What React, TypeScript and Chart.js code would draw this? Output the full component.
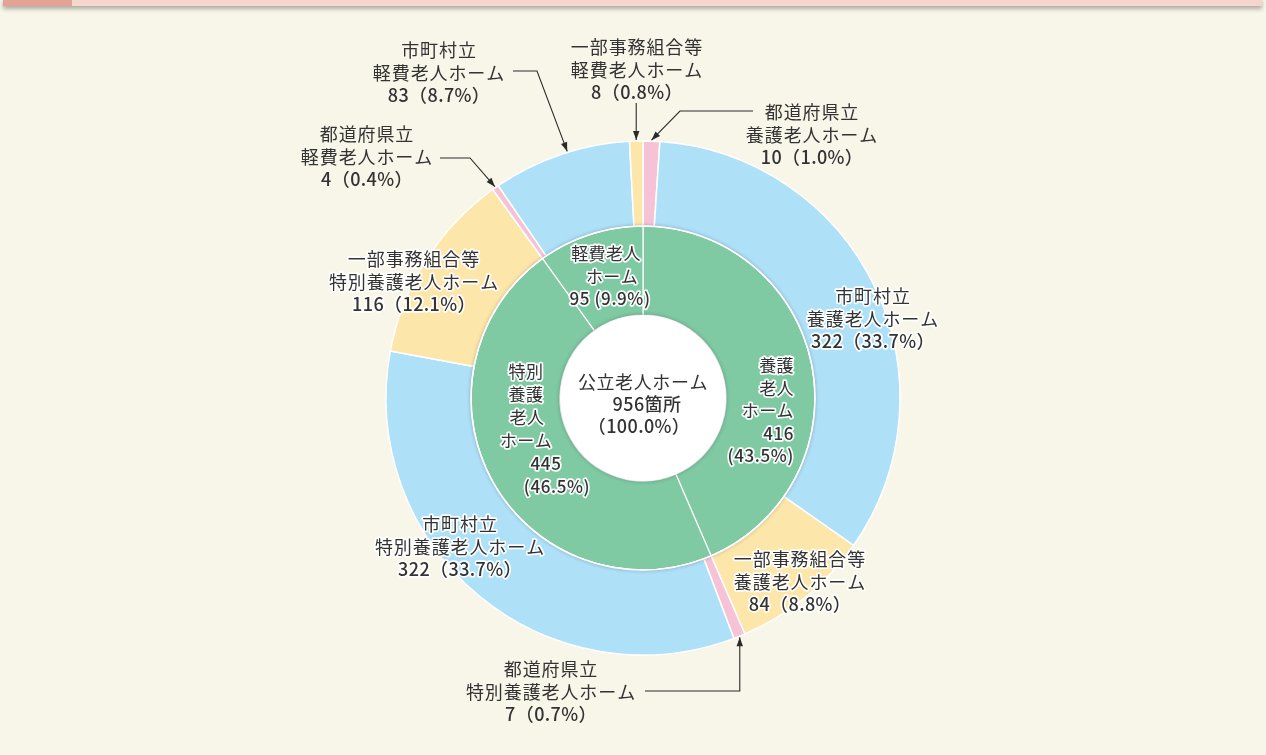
import React, { useEffect, useRef } from 'react';
import { Chart, registerables } from 'chart.js';

Chart.register(...registerables);

// ---------------- data ----------------
const innerCategories = ['養護老人ホーム', '特別養護老人ホーム', '軽費老人ホーム'];
const innerValues = [416, 445, 95];
const innerPercents = ['43.5', '46.5', '9.9'];
const innerLabelWords = [
  ['養護', '老人', 'ホーム'],
  ['特別', '養護', '老人', 'ホーム'],
  ['軽費老人', 'ホーム'],
];

const outerOwners = ['都道府県立', '市町村立', '一部事務組合等', '都道府県立', '市町村立', '一部事務組合等', '都道府県立', '市町村立', '一部事務組合等'];
const outerTypes = ['養護老人ホーム', '養護老人ホーム', '養護老人ホーム', '特別養護老人ホーム', '特別養護老人ホーム', '特別養護老人ホーム', '軽費老人ホーム', '軽費老人ホーム', '軽費老人ホーム'];
const outerValues = [10, 322, 84, 7, 322, 116, 4, 83, 8];
const outerPercents = ['1.0', '33.7', '8.8', '0.7', '33.7', '12.1', '0.4', '8.7', '0.8'];

const centerTitle = '公立老人ホーム';
const totalValue = 956;
const totalUnit = '箇所';
const totalPercent = '100.0';

// ---------------- styles / layout ----------------
const BG = '#f8f5e9';
const TEXT = '#333333';
const GREEN = '#7fc9a3';
const OWNER_COLORS: Record<string, string> = {
  '都道府県立': '#f6c3d6',
  '市町村立': '#aee0f8',
  '一部事務組合等': '#fde6aa',
};
const FONT = '"Noto Sans CJK JP", "Noto Sans", sans-serif';
const NUM_WEIGHT = '500';

// label anchors relative to chart centre: [dx, dy of first line centre]
const outerLabelPos: [number, number][] = [
  [169, -286], [230, -102], [157, 161],
  [-92, 271], [-183, 126], [-229, -139],
  [-276, -264], [-204, -348], [-6, -351],
];
const outerLabelHalo = [false, true, true, false, true, true, false, false, false];
// leader line points (relative to centre); null x = use arrow tip x
const outerLeaders: (null | { via: [number | null, number][]; frac: number })[] = [
  { via: [[110, -287], [37, -287]], frac: 0.5 },
  null,
  null,
  { via: [[2, 293], [null, 293]], frac: 0.5 },
  null,
  null,
  { via: [[-203, -240], [-173, -240]], frac: 0.5 },
  { via: [[-130, -327], [-106, -327]], frac: 0.55 },
  { via: [[null, -295]], frac: 0.5 },
];

const innerLabelLayout = [
  { align: 'right' as CanvasTextAlign, xs: [151, 151, 151, 151, 151], y0: -32, lh: 22.5 },
  { align: 'center' as CanvasTextAlign, xs: [-117, -117, -116, -117, -97, -86], y0: -26, lh: 23 },
  { align: 'center' as CanvasTextAlign, xs: [-37, -31, -33], y0: -144, lh: 22.5 },
];

function drawText(ctx: CanvasRenderingContext2D, text: string, x: number, y: number, halo: boolean, spacing: number) {
  (ctx as any).letterSpacing = spacing + 'px';
  if (halo) {
    ctx.save();
    ctx.lineJoin = 'round';
    ctx.strokeStyle = 'rgba(255,255,255,0.95)';
    ctx.lineWidth = 3.5;
    ctx.strokeText(text, x, y);
    ctx.restore();
  }
  ctx.fillText(text, x, y);
}

const overlayPlugin = {
  id: 'overlay',
  afterDatasetsDraw(chart: any) {
    const ctx: CanvasRenderingContext2D = chart.ctx;
    const outerMeta = chart.getDatasetMeta(0);
    const innerMeta = chart.getDatasetMeta(1);
    const a0: any = outerMeta.data[0];
    const i0: any = innerMeta.data[0];
    const cx = a0.x;
    const cy = a0.y;
    const outerR = a0.outerRadius;
    const ringR = i0.outerRadius;
    const holeR = i0.innerRadius;

    // shadow of the inner ring onto the outer ring
    ctx.save();
    ctx.beginPath();
    ctx.arc(cx, cy, outerR + 6, 0, Math.PI * 2);
    ctx.arc(cx, cy, ringR, 0, Math.PI * 2, true);
    ctx.clip();
    ctx.shadowColor = 'rgba(0,0,0,0.35)';
    ctx.shadowBlur = 4;
    ctx.beginPath();
    ctx.arc(cx, cy, ringR, 0, Math.PI * 2);
    ctx.fillStyle = '#ffffff';
    ctx.fill();
    ctx.restore();
    ctx.save();
    ctx.beginPath();
    ctx.arc(cx, cy, ringR, 0, Math.PI * 2);
    ctx.strokeStyle = '#ffffff';
    ctx.lineWidth = 1.5;
    ctx.stroke();
    ctx.restore();

    // white centre
    ctx.save();
    ctx.shadowColor = 'rgba(0,0,0,0.3)';
    ctx.shadowBlur = 4;
    ctx.beginPath();
    ctx.arc(cx, cy, holeR, 0, Math.PI * 2);
    ctx.fillStyle = '#ffffff';
    ctx.fill();
    ctx.restore();

    ctx.save();
    ctx.fillStyle = TEXT;
    ctx.textBaseline = 'middle';

    // centre text
    ctx.textAlign = 'center';
    ctx.font = `18px ${FONT}`;
    drawText(ctx, centerTitle, cx, cy - 16, false, 0.6);
    ctx.font = `${NUM_WEIGHT} 18px ${FONT}`;
    drawText(ctx, `${totalValue}${totalUnit}`, cx + 4, cy + 6, false, 0.4);
    drawText(ctx, `（${totalPercent}%）`, cx - 4, cy + 28, false, 0.4);

    // outer labels + leaders
    outerValues.forEach((v, i) => {
      const [dx, dy] = outerLabelPos[i];
      const lines = [outerOwners[i], outerTypes[i], `${v}（${outerPercents[i]}%）`];
      lines.forEach((t, k) => {
        ctx.font = k === 2 ? `${NUM_WEIGHT} 18px ${FONT}` : `18px ${FONT}`;
        drawText(ctx, t, cx + dx, cy + dy + k * 22.8, outerLabelHalo[i], k === 2 ? 0.4 : 0.9);
      });
      const leader = outerLeaders[i];
      if (leader) {
        const arc: any = outerMeta.data[i];
        const ang = arc.startAngle + (arc.endAngle - arc.startAngle) * leader.frac;
        const tr = arc.outerRadius + 1;
        const tx = cx + tr * Math.cos(ang);
        const ty = cy + tr * Math.sin(ang);
        const pts = leader.via.map(([px, py]) => [px === null ? tx : cx + px, cy + py]);
        pts.push([tx, ty]);
        ctx.save();
        ctx.strokeStyle = '#2a2a2a';
        ctx.lineWidth = 1.1;
        ctx.beginPath();
        ctx.moveTo(pts[0][0], pts[0][1]);
        for (let k = 1; k < pts.length; k++) ctx.lineTo(pts[k][0], pts[k][1]);
        ctx.stroke();
        const [px, py] = pts[pts.length - 2];
        const dir = Math.atan2(ty - py, tx - px);
        const L = 9;
        const W = 3.2;
        ctx.fillStyle = '#2a2a2a';
        ctx.beginPath();
        ctx.moveTo(tx, ty);
        ctx.lineTo(tx - L * Math.cos(dir) + W * Math.sin(dir), ty - L * Math.sin(dir) - W * Math.cos(dir));
        ctx.lineTo(tx - L * Math.cos(dir) - W * Math.sin(dir), ty - L * Math.sin(dir) + W * Math.cos(dir));
        ctx.closePath();
        ctx.fill();
        ctx.restore();
      }
    });

    // inner labels
    innerValues.forEach((v, i) => {
      const lay = innerLabelLayout[i];
      const lines = [...innerLabelWords[i]];
      if (i === 2) lines.push(`${v} (${innerPercents[i]}%)`);
      else lines.push(`${v}`, `(${innerPercents[i]}%)`);
      ctx.textAlign = lay.align;
      lines.forEach((t, k) => {
        const isNum = /^[\d(]/.test(t);
        ctx.font = isNum ? `${NUM_WEIGHT} 17px ${FONT}` : `17px ${FONT}`;
        drawText(ctx, t, cx + lay.xs[k], cy + lay.y0 + k * lay.lh, true, isNum ? 0.6 : 0.4);
      });
    });
    ctx.restore();
  },
};

export default function App() {
  const ref = useRef<HTMLCanvasElement>(null);
  useEffect(() => {
    if (!ref.current) return;
    const chart = new Chart(ref.current, {
      type: 'doughnut',
      data: {
        labels: outerValues.map((_, i) => outerOwners[i] + outerTypes[i]),
        datasets: [
          {
            label: '設置主体別',
            data: outerValues,
            backgroundColor: outerOwners.map((o) => OWNER_COLORS[o]),
            borderColor: '#ffffff',
            borderWidth: 1.5,
            weight: 85,
          } as any,
          {
            label: '種類別',
            data: innerValues,
            backgroundColor: innerCategories.map(() => GREEN),
            borderColor: '#ffffff',
            borderWidth: 1.2,
            weight: 89,
          } as any,
        ],
      },
      options: {
        responsive: false,
        animation: false,
        radius: 257,
        cutout: `${(83 / 257) * 100}%`,
        layout: { padding: { left: 20, top: 41, right: 0, bottom: 0 } },
        plugins: {
          legend: { display: false },
          tooltip: { enabled: false },
        },
      } as any,
      plugins: [overlayPlugin],
    });
    return () => chart.destroy();
  }, []);

  return (
    <div style={{ position: 'absolute', left: 0, top: 0, width: 1266, height: 755, background: BG, overflow: 'hidden' }}>
      <div
        style={{
          position: 'absolute',
          left: 3,
          top: -2,
          width: 1259,
          height: 8,
          background: '#f5d6cd',
          boxShadow: '0 3px 4px rgba(0,0,0,0.3)',
        }}
      >
        <div style={{ position: 'absolute', left: 0, top: 0, width: 69, height: 8, background: '#e2a395' }} />
      </div>
      <canvas ref={ref} width={1266} height={755} style={{ position: 'absolute', left: 0, top: 0, width: 1266, height: 755 }} />
    </div>
  );
}
